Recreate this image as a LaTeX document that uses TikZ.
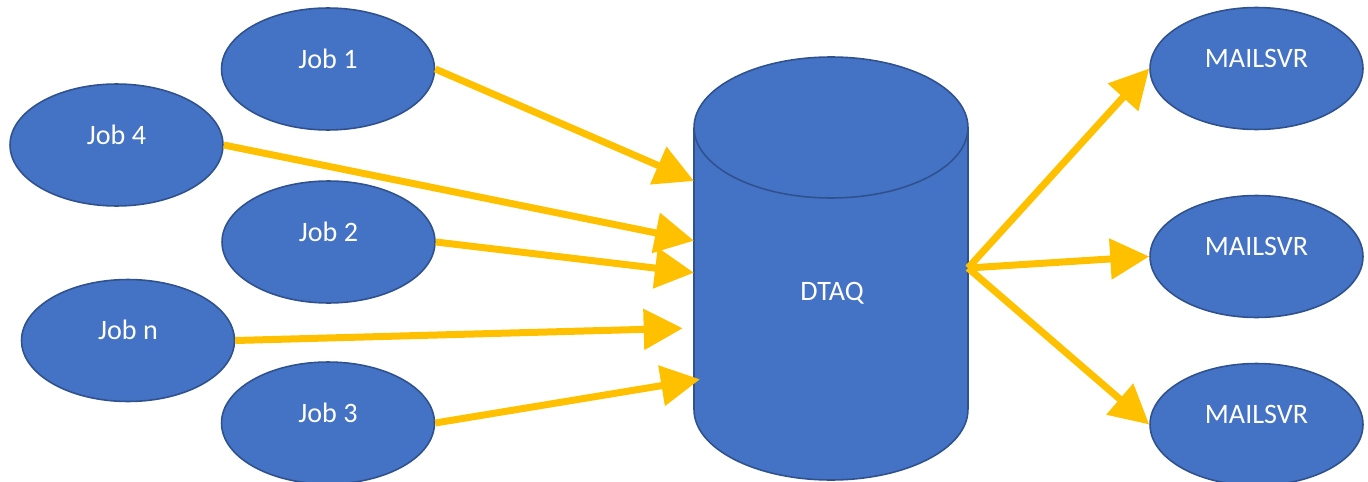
\documentclass[tikz,border=0pt]{standalone}
\usepackage{fontspec}
\setmainfont{Carlito}
\usetikzlibrary{shapes.geometric,arrows.meta}
\definecolor{boxblue}{HTML}{4472C4}
\definecolor{edgeblue}{HTML}{2F528F}
\definecolor{flowgold}{HTML}{FFC000}
\begin{document}
\begin{tikzpicture}[x=0.02cm,y=0.02cm,
  font=\fontsize{16}{19}\selectfont,
  proc/.style={ellipse,fill=boxblue,draw=edgeblue,line width=0.9pt,
    minimum width=4.26cm,minimum height=2.44cm,inner sep=0pt},
  txt/.style={text=white,yshift=0.21cm},
  flow/.style={flowgold,line width=0.14cm,-{Triangle[length=0.78cm,width=0.79cm]}}]
\useasboundingbox (0,0) rectangle (1368,481);
% jobs on the left
\node[proc,label={[txt]center:Job 1}] (job1) at (328,412) {};
\node[proc,label={[txt]center:Job 4}] (job4) at (116.5,336) {};
\node[proc,label={[txt]center:Job 2}] (job2) at (328.5,239) {};
\node[proc,label={[txt]center:Job n}] (jobn) at (128,140.5) {};
\node[proc,label={[txt]center:Job 3}] (job3) at (328,58) {};
% mail servers on the right
\node[proc,label={[txt]center:MAILSVR}] (mail1) at (1256.5,412.5) {};
\node[proc,label={[txt]center:MAILSVR}] (mail2) at (1256.5,224.5) {};
\node[proc,label={[txt]center:MAILSVR}] (mail3) at (1256.5,56.5) {};
% the queue
\fill[boxblue] (694,353.5) -- (694,71.5) arc[start angle=180,end angle=360,x radius=2.74cm,y radius=1.41cm]
  -- (968,353.5) arc[start angle=0,end angle=180,x radius=2.74cm,y radius=1.41cm] -- cycle;
\draw[edgeblue,line width=0.9pt] (694,353.5) -- (694,71.5)
  arc[start angle=180,end angle=360,x radius=2.74cm,y radius=1.41cm] -- (968,353.5);
\draw[edgeblue,line width=0.9pt] (831,353.5) ellipse[x radius=2.74cm,y radius=1.41cm];
\node[text=white] (dtaq) at (832,188) {DTAQ};
\coordinate (in1) at (694,300);
\coordinate (in4) at (694,240.3);
\coordinate (in2) at (694,208.3);
\coordinate (inn) at (682.7,152.7);
\coordinate (in3) at (700,101.7);
\coordinate (out) at (968,213);
% flows
\draw[flow] (job1.east) -- (in1);
\draw[flow] (job4.east) -- (in4);
\draw[flow] (job2.east) -- (in2);
\draw[flow] (jobn.east) -- (inn);
\draw[flow] (job3.east) -- (in3);
\draw[flow] (out) -- (mail1.west);
\draw[flow] (out) -- (mail2.west);
\draw[flow] (out) -- (mail3.west);
\end{tikzpicture}
\end{document}
